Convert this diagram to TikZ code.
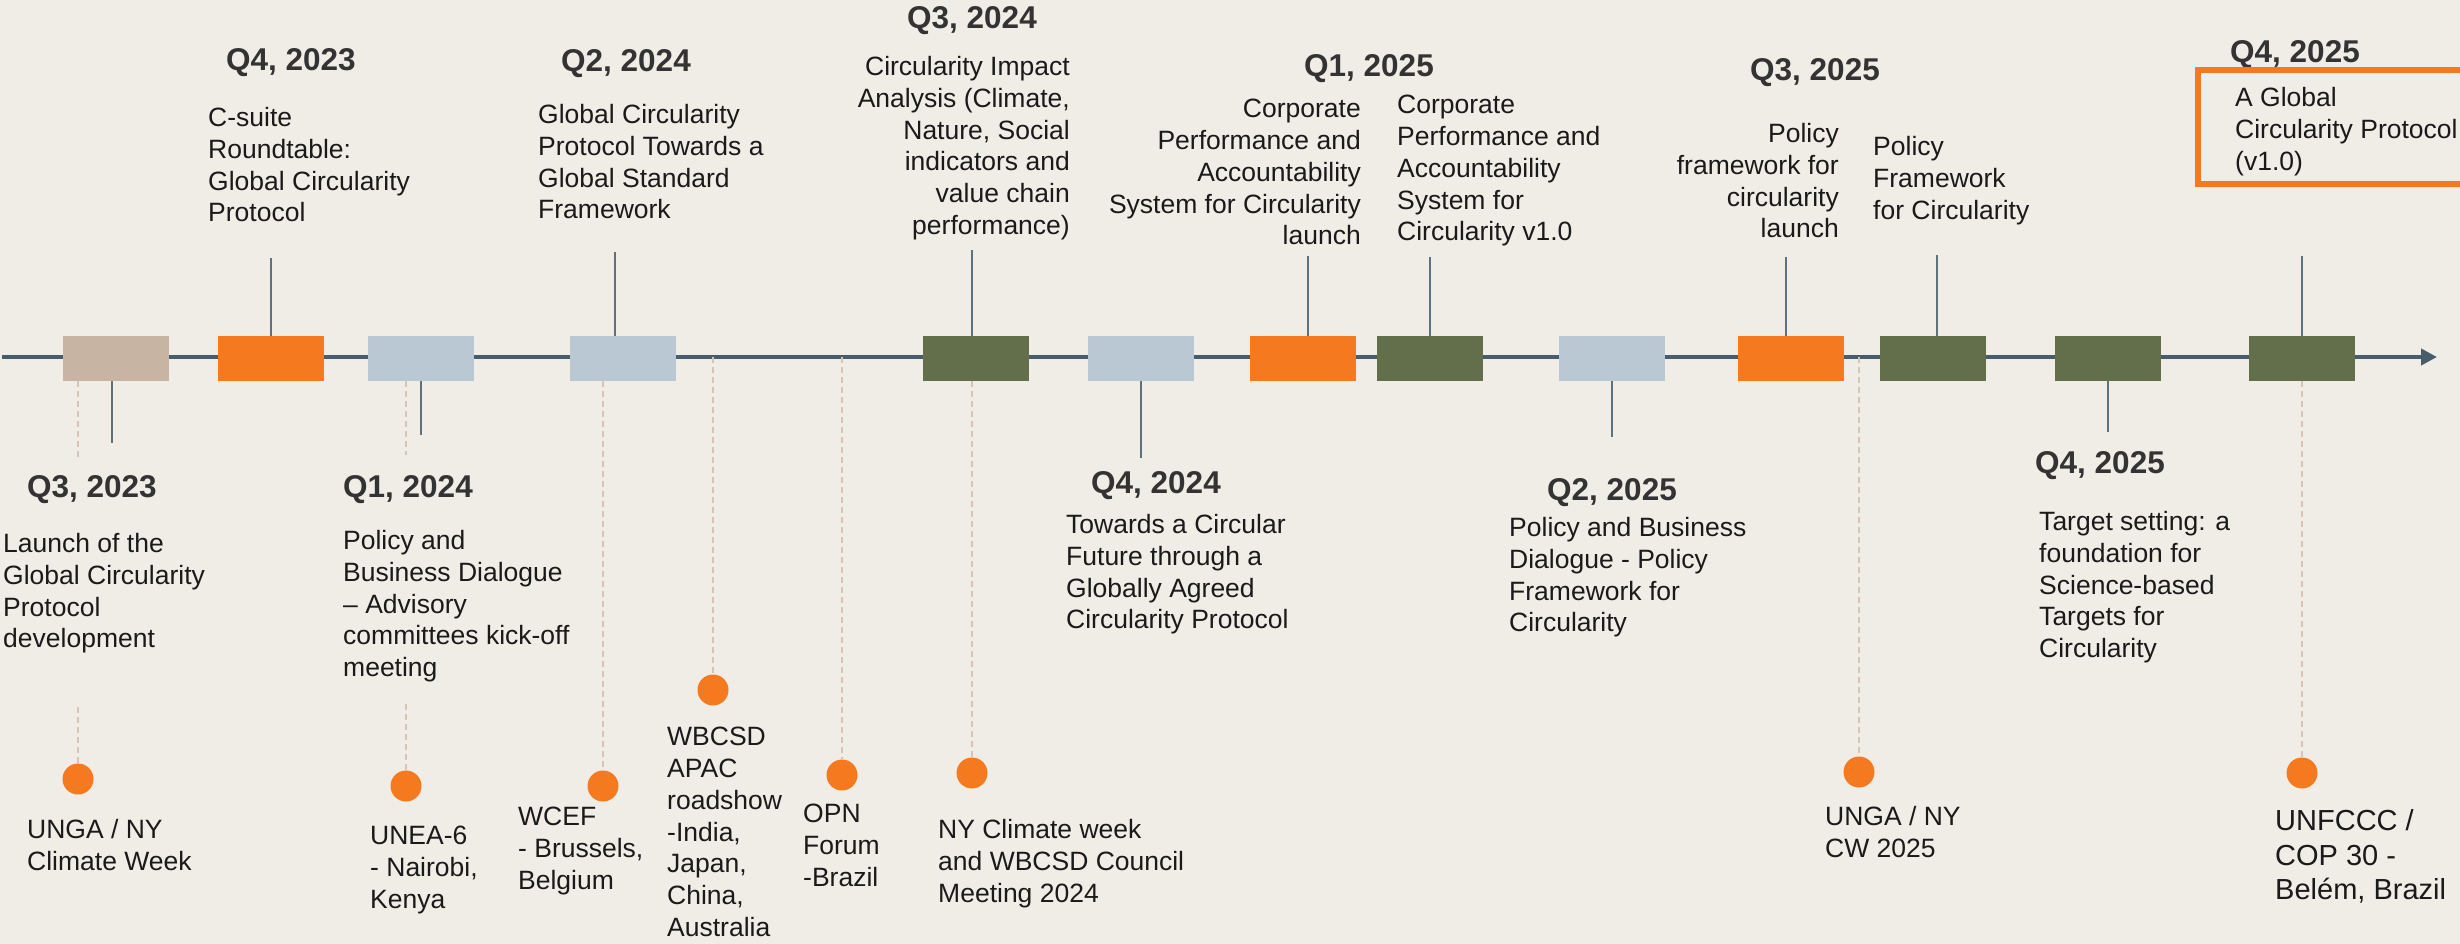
\documentclass[tikz,border=0pt]{standalone}
\usepackage{fontspec}
\setmainfont{Liberation Sans}
\usetikzlibrary{arrows.meta}

\definecolor{bgpaper}{HTML}{F0EDE7}
\definecolor{axisgray}{HTML}{475D6B}
\definecolor{stemgray}{HTML}{5E717D}
\definecolor{guidepink}{HTML}{D9C3B5}
\definecolor{gcporange}{HTML}{F57A1F}
\definecolor{gcpbeige}{HTML}{C8B4A2}
\definecolor{gcpblue}{HTML}{B9C8D3}
\definecolor{gcpgreen}{HTML}{626F4A}
\definecolor{qgray}{HTML}{333333}
\definecolor{ink}{HTML}{1A1A1A}

\begin{document}
\begin{tikzpicture}[x=1pt,y=-1pt,
    phase/.style={minimum width=106pt,minimum height=45pt,inner sep=0pt},
    qlabel/.style={font=\fontsize{31.5}{37}\selectfont\bfseries,text=qgray,inner sep=0pt,anchor=base},
    desc/.style={font=\fontsize{26.5}{31.8}\selectfont,text=ink,inner sep=0pt,align=left,anchor=north west},
    descr/.style={desc,align=right,anchor=north east},
    stem/.style={draw=stemgray,line width=1.5pt},
    guide/.style={draw=guidepink,line width=1.5pt,dash pattern=on 6pt off 4pt},
    event/.style={circle,fill=gcporange,minimum size=31pt,inner sep=0pt},
    axis/.style={draw=axisgray,line width=4pt,-{Triangle[length=16pt,width=16pt]}},
    goal/.style={draw=gcporange,line width=6pt}]

    \path[use as bounding box,fill=bgpaper] (0,0) rectangle (2460,944);

    % timeline
    \coordinate (tl) at (2,357); \coordinate (tr) at (2437,357);
    \draw[axis] (tl) -- (tr);

    % events below the line
    \node[event] (d1) at (78,779) {}; \node[event] (d2) at (406,786) {}; \node[event] (d3) at (603,786) {}; \node[event] (d4) at (713,690) {};
    \node[event] (d5) at (842,775) {}; \node[event] (d6) at (972,773) {}; \node[event] (d7) at (1859,772) {}; \node[event] (d8) at (2302,773) {};

    % phases on the line
    \node[phase,fill=gcpbeige] (b1) at (116,358.5) {}; \node[phase,fill=gcporange] (b2) at (271,358.5) {}; \node[phase,fill=gcpblue] (b3) at (421,358.5) {};
    \node[phase,fill=gcpblue] (b4) at (623,358.5) {}; \node[phase,fill=gcpgreen] (b5) at (976,358.5) {}; \node[phase,fill=gcpblue] (b6) at (1141,358.5) {};
    \node[phase,fill=gcporange] (b7) at (1303,358.5) {}; \node[phase,fill=gcpgreen] (b8) at (1430,358.5) {}; \node[phase,fill=gcpblue] (b9) at (1612,358.5) {};
    \node[phase,fill=gcporange] (b10) at (1791,358.5) {}; \node[phase,fill=gcpgreen] (b11) at (1933,358.5) {}; \node[phase,fill=gcpgreen] (b12) at (2108,358.5) {};
    \node[phase,fill=gcpgreen] (b13) at (2302,358.5) {};

    % dashed guides to the events
    \draw[guide] (b1.south -| d1) -- ++(0,76); \draw[guide] (d1.north) -- ++(0,-56);
    \draw[guide] (b3.south -| d2) -- ++(0,74); \draw[guide] (d2.north) -- ++(0,-68);
    \draw[guide] (b4.south -| d3) -- (d3.north); \draw[guide] (d4 |- tl) -- (d4.north);
    \draw[guide] (d5 |- tl) -- (d5.north); \draw[guide] (b5.south -| d6) -- (d6.north);
    \draw[guide] (d7 |- tl) -- (d7.north); \draw[guide] (b13.south -| d8) -- (d8.north);

    % stems
    \draw[stem] (b2.north) -- ++(0,-78); \draw[stem] ([xshift=-8]b4.north) -- ++(0,-84); \draw[stem] ([xshift=-4]b5.north) -- ++(0,-86);
    \draw[stem] ([xshift=5]b7.north) -- ++(0,-80); \draw[stem] (b8.north) -- ++(0,-79); \draw[stem] ([xshift=-5]b10.north) -- ++(0,-79);
    \draw[stem] ([xshift=4]b11.north) -- ++(0,-81); \draw[stem] (b13.north) -- ++(0,-80);
    \draw[stem] ([xshift=-4]b1.south) -- ++(0,62); \draw[stem] (b3.south) -- ++(0,54); \draw[stem] (b6.south) -- ++(0,77);
    \draw[stem] (b9.south) -- ++(0,56); \draw[stem] (b12.south) -- ++(0,51);

    % above the line
    \node[qlabel] (q4a) at (291,71) {Q4, 2023};
    \node[desc] (tcsuite) at (208,107) {C-suite\\Roundtable:\\Global Circularity\\Protocol};
    \node[qlabel] (q2a) at (626,72) {Q2, 2024};
    \node[desc] (tgcp) at (538,104) {Global Circularity\\Protocol Towards a\\Global Standard\\Framework};
    \node[qlabel] (q3a) at (972,29) {Q3, 2024};
    \node[descr] (tcia) at (1070,56) {Circularity Impact\\Analysis (Climate,\\Nature, Social\\indicators and\\value chain\\performance)};
    \node[qlabel] (q1b) at (1369,77) {Q1, 2025};
    \node[descr] (tcpal) at (1361,99) {Corporate\\Performance and\\Accountability\\System for Circularity\\launch};
    \node[desc] (tcpav) at (1397,95) {Corporate\\Performance and\\Accountability\\System for\\Circularity v1.0};
    \node[qlabel] (q3b) at (1815,81) {Q3, 2025};
    \node[descr] (tpfl) at (1839,123) {Policy\\framework for\\circularity\\launch};
    \node[desc] (tpf) at (1873,136) {Policy\\Framework\\for Circularity};
    \node[qlabel] (q4c) at (2295,63) {Q4, 2025};
    \draw[goal] (2198,70) rectangle (2520,184);
    \node[desc] (tagcp) at (2235,87) {A Global\\Circularity Protocol\\(v1.0)};

    % below the line
    \node[qlabel] (q3z) at (92,497) {Q3, 2023};
    \node[desc] (tlaunch) at (3,533) {Launch of the\\Global Circularity\\Protocol\\development};
    \node[qlabel] (q1a) at (408,497) {Q1, 2024};
    \node[desc] (tpbd) at (343,530) {Policy and\\Business Dialogue\\– Advisory\\committees kick-off\\meeting};
    \node[qlabel] (q4b) at (1156,493) {Q4, 2024};
    \node[desc] (ttow) at (1066,514) {Towards a Circular\\Future through a\\Globally Agreed\\Circularity Protocol};
    \node[qlabel] (q2b) at (1612,500) {Q2, 2025};
    \node[desc] (tpbd2) at (1509,517) {Policy and Business\\Dialogue - Policy\\Framework for\\Circularity};
    \node[qlabel] (q4d) at (2100,473) {Q4, 2025};
    \node[desc] (ttarget) at (2039,511) {Target setting: a\\foundation for\\Science-based\\Targets for\\Circularity};

    % event texts
    \node[desc] (e1) at (27,819) {UNGA / NY\\Climate Week};
    \node[desc] (e2) at (370,826) {UNEA-6\\- Nairobi,\\Kenya};
    \node[desc] (e3) at (518,807) {WCEF\\- Brussels,\\Belgium};
    \node[desc] (e4) at (667,727) {WBCSD\\APAC\\roadshow\\-India,\\Japan,\\China,\\Australia};
    \node[desc] (e5) at (803,804) {OPN\\Forum\\-Brazil};
    \node[desc] (e6) at (938,819) {NY Climate week\\and WBCSD Council\\Meeting 2024};
    \node[desc] (e7) at (1825,806) {UNGA / NY\\CW 2025};
    \node[desc,font=\fontsize{29}{34.8}\selectfont] (e8) at (2275,809) {UNFCCC /\\COP 30 -\\Belém, Brazil};
\end{tikzpicture}
\end{document}
